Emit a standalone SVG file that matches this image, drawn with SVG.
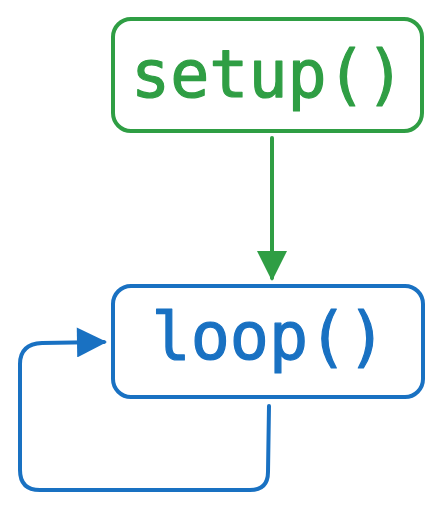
<svg xmlns="http://www.w3.org/2000/svg" width="446" height="511" viewBox="0 0 446 511">
<style>
.box{fill:#ffffff;stroke-width:4;stroke-linecap:round;stroke-linejoin:round}
.g{stroke:#2f9e44}
.b{stroke:#1971c2}
.lbl{font-family:"DejaVu Sans Mono","Liberation Mono",monospace;font-size:65px;text-anchor:middle;stroke-width:1.2;stroke-linejoin:round}
.edge{fill:none;stroke-width:4;stroke-linecap:round;stroke-linejoin:round}
</style>
<defs>
<marker id="ag" viewBox="0 0 10 10" refX="9" refY="5" markerWidth="8" markerHeight="7.5" markerUnits="strokeWidth" orient="auto">
<path d="M0,0 L10,5 L0,10 Z" fill="#2f9e44"/>
</marker>
<marker id="ab" viewBox="0 0 10 10" refX="9" refY="5" markerWidth="8" markerHeight="7.5" markerUnits="strokeWidth" orient="auto">
<path d="M0,0 L10,5 L0,10 Z" fill="#1971c2"/>
</marker>
</defs>
<g id="edges">
<path class="edge" stroke="#2f9e44" d="M272,138 L272,278" marker-end="url(#ag)"/>
<path class="edge" stroke="#1971c2" d="M269,406 L268,472 Q268,490 250,490 L40,490 Q20,490 20,470 L20,364 Q20,344 42,343 L104,342" marker-end="url(#ab)"/>
</g>
<g id="setup">
<rect class="box g" x="113" y="19" width="309" height="112" rx="18"/>
<text class="lbl" x="268" y="97" fill="#2f9e44" stroke="#2f9e44">setup()</text>
</g>
<g id="loop">
<rect class="box b" x="113" y="286" width="310" height="111" rx="18"/>
<text class="lbl" x="269" y="359" fill="#1971c2" stroke="#1971c2">loop()</text>
</g>
</svg>
